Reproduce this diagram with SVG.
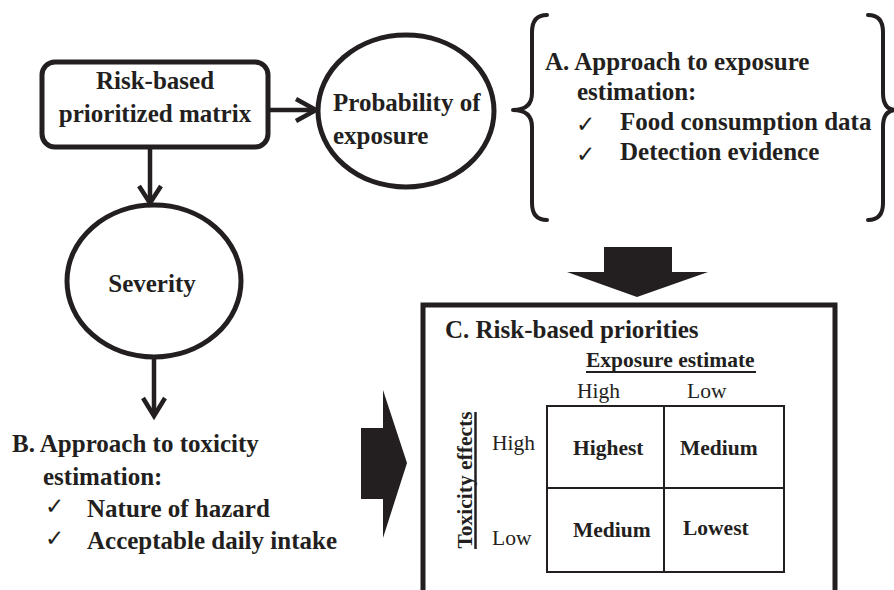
<svg xmlns="http://www.w3.org/2000/svg" width="894" height="590" viewBox="0 0 894 590">
<style>
.t{font-family:"Liberation Serif","Times New Roman",serif;font-weight:bold;font-size:25px;fill:#231f20}
.s{font-family:"Liberation Serif","Times New Roman",serif;font-weight:bold;font-size:21.5px;fill:#231f20}
.r{font-family:"Liberation Serif","Times New Roman",serif;font-size:21.5px;fill:#231f20}
.ck{font-family:"DejaVu Sans",sans-serif;font-size:23px;fill:#231f20}
.node{fill:#fff;stroke:#231f20;stroke-width:5}
.line{fill:none;stroke:#231f20;stroke-width:4.5}
.brace{fill:none;stroke:#231f20;stroke-width:4;stroke-linecap:round;stroke-linejoin:round}
.grid{fill:none;stroke:#231f20;stroke-width:2}
.block{fill:#231f20}
</style>
<rect width="894" height="590" fill="#fff"/>
<g id="connectors">
<line class="line" x1="268" y1="110" x2="314" y2="110"/>
<polyline class="line" points="296,99 316,110 296,121"/>
<line class="line" x1="150" y1="147" x2="150" y2="201"/>
<polyline class="line" points="139,186 150,203 161,186"/>
<line class="line" x1="154" y1="358" x2="154" y2="415"/>
<polyline class="line" points="143,398 154,416 165,398"/>
<polygon class="block" points="604,247 672,247 672,272 708,272 637,297 567,272 604,272"/>
<polygon class="block" points="361,428 383,428 383,390 407,463 383,538 383,499 361,499"/>
</g>
<g id="matrix-node">
<rect class="node" x="42" y="62" width="226" height="85" rx="13"/>
<text class="t" x="155" y="89" text-anchor="middle">Risk-based</text>
<text class="t" x="155" y="122" text-anchor="middle">prioritized matrix</text>
</g>
<g id="probability-node">
<ellipse class="node" cx="406" cy="111" rx="88" ry="76"/>
<text class="t" x="333" y="111">Probability of</text>
<text class="t" x="333" y="144">exposure</text>
</g>
<g id="severity-node">
<ellipse class="node" cx="154" cy="281" rx="87" ry="76"/>
<text class="t" x="152" y="292" text-anchor="middle">Severity</text>
</g>
<g id="exposure-approach">
<path class="brace" d="M547,15 Q532,15 532,32 L532,93 Q532,110 513,110 Q532,110 532,127 L532,203 Q532,220 547,220"/>
<path class="brace" d="M868,15 Q883,15 883,32 L883,93 Q883,110 896,110 Q883,110 883,127 L883,203 Q883,220 868,220"/>
<text class="t" x="545" y="70">A. Approach to exposure</text>
<text class="t" x="577" y="100">estimation:</text>
<text class="ck" x="576" y="132">✓</text>
<text class="t" x="620" y="130">Food consumption data</text>
<text class="ck" x="576" y="162">✓</text>
<text class="t" x="620" y="160">Detection evidence</text>
</g>
<g id="toxicity-approach">
<text class="t" x="12" y="452">B. Approach to toxicity</text>
<text class="t" x="43" y="485">estimation:</text>
<text class="ck" x="45" y="514">✓</text>
<text class="t" x="87" y="517">Nature of hazard</text>
<text class="ck" x="45" y="546">✓</text>
<text class="t" x="87" y="549">Acceptable daily intake</text>
</g>
<g id="risk-priorities">
<path class="node" d="M423,595 L423,305 L835,305 L835,595" fill="none"/>
<text class="t" x="445" y="338">C. Risk-based priorities</text>
<text class="s" x="586" y="367">Exposure estimate</text>
<line x1="586" y1="372" x2="756" y2="372" stroke="#231f20" stroke-width="2"/>
<text class="r" x="577" y="398">High</text>
<text class="r" x="687" y="398">Low</text>
<text class="s" transform="translate(472,480) rotate(-90)" text-anchor="middle">Toxicity effects</text>
<line x1="475.5" y1="412" x2="475.5" y2="549" stroke="#231f20" stroke-width="2.5"/>
<text class="r" x="492" y="450">High</text>
<text class="r" x="492" y="545">Low</text>
<rect class="grid" x="547" y="406" width="237" height="166"/>
<line class="grid" x1="664" y1="406" x2="664" y2="572"/>
<line class="grid" x1="547" y1="488" x2="784" y2="488"/>
<text class="s" x="573" y="455">Highest</text>
<text class="s" x="680" y="455">Medium</text>
<text class="s" x="573" y="537">Medium</text>
<text class="s" x="683" y="535">Lowest</text>
</g>
</svg>
